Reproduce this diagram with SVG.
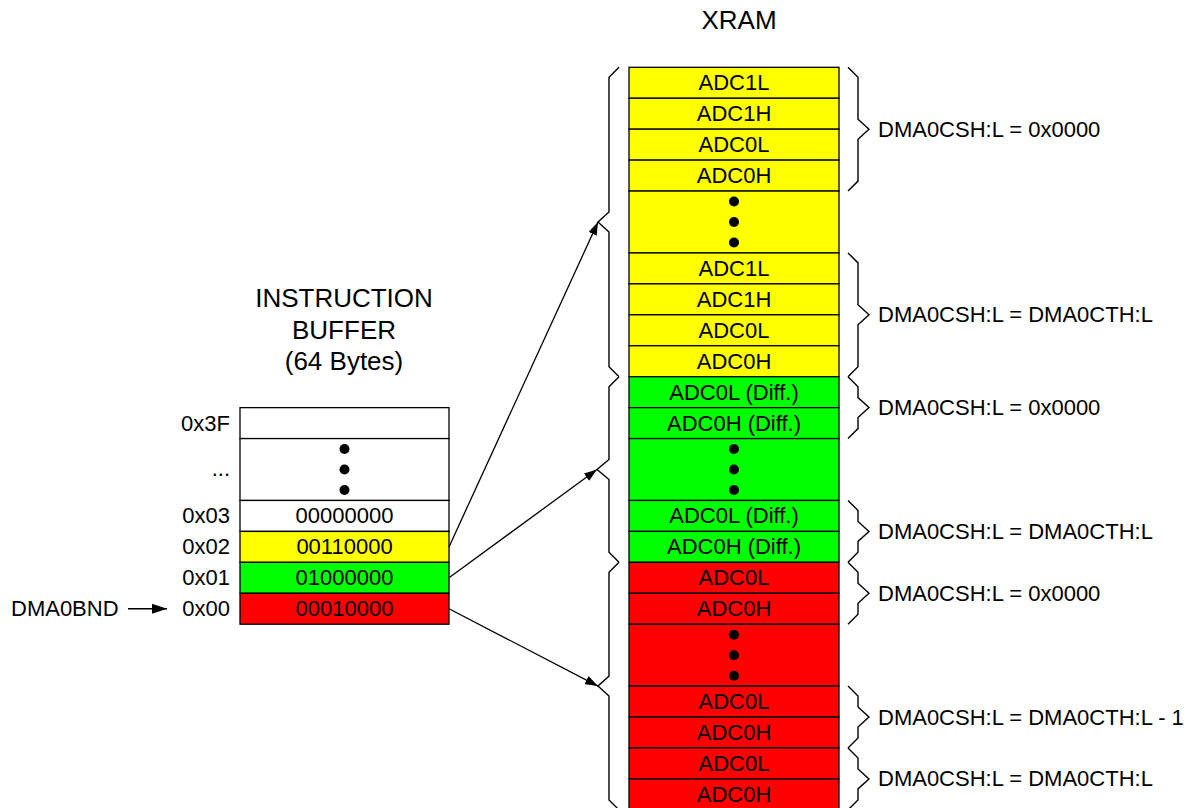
<svg xmlns="http://www.w3.org/2000/svg" width="1190" height="808" viewBox="0 0 1190 808">
<defs>
<style>
text{font-family:"Liberation Sans",Arial,sans-serif;font-size:22px;fill:#000}
.t{font-size:26px;text-anchor:middle}
.c{text-anchor:middle}
.r{text-anchor:end}
.cell{stroke:#000;stroke-width:1.3}
.y{fill:#ffff00}
.g{fill:#00ff00}
.rd{fill:#ff0000}
.w{fill:#ffffff}
.br{fill:none;stroke:#000;stroke-width:1.4;stroke-linejoin:miter}
.ln{fill:none;stroke:#000;stroke-width:1.3}
</style>
<marker id="ah" viewBox="0 0 13 9" refX="13" refY="4.5" markerWidth="13" markerHeight="9" markerUnits="userSpaceOnUse" orient="auto">
<path d="M0,0 L13,4.5 L0,9 z" fill="#000"/>
</marker>
<marker id="ah2" viewBox="0 0 15 10" refX="15" refY="5" markerWidth="15" markerHeight="10" markerUnits="userSpaceOnUse" orient="auto">
<path d="M0,0 L15,5 L0,10 z" fill="#000"/>
</marker>
</defs>
<rect width="1190" height="808" fill="#fff"/>

<g id="titles">
<text class="t" x="739" y="28.5">XRAM</text>
<text class="t" x="344" y="307">INSTRUCTION</text>
<text class="t" x="344" y="338.5">BUFFER</text>
<text class="t" x="344" y="369.5">(64 Bytes)</text>
</g>

<g id="xram">
<g id="xram-yellow">
<rect class="cell y" x="629" y="67.3" width="210" height="30.94"/>
<rect class="cell y" x="629" y="98.24" width="210" height="30.94"/>
<rect class="cell y" x="629" y="129.18" width="210" height="30.94"/>
<rect class="cell y" x="629" y="160.12" width="210" height="30.94"/>
<rect class="cell y" x="629" y="191.06" width="210" height="61.88"/>
<rect class="cell y" x="629" y="252.94" width="210" height="30.94"/>
<rect class="cell y" x="629" y="283.88" width="210" height="30.94"/>
<rect class="cell y" x="629" y="314.82" width="210" height="30.94"/>
<rect class="cell y" x="629" y="345.76" width="210" height="30.94"/>
<text class="c" x="734" y="90.3">ADC1L</text>
<text class="c" x="734" y="121.2">ADC1H</text>
<text class="c" x="734" y="152.2">ADC0L</text>
<text class="c" x="734" y="183.1">ADC0H</text>
<circle cx="734" cy="201.5" r="5"/>
<circle cx="734" cy="222" r="5"/>
<circle cx="734" cy="242.5" r="5"/>
<text class="c" x="734" y="275.9">ADC1L</text>
<text class="c" x="734" y="306.9">ADC1H</text>
<text class="c" x="734" y="337.8">ADC0L</text>
<text class="c" x="734" y="368.7">ADC0H</text>
</g>
<g id="xram-green">
<rect class="cell g" x="629" y="376.7" width="210" height="30.94"/>
<rect class="cell g" x="629" y="407.64" width="210" height="30.94"/>
<rect class="cell g" x="629" y="438.58" width="210" height="61.88"/>
<rect class="cell g" x="629" y="500.46" width="210" height="30.94"/>
<rect class="cell g" x="629" y="531.4" width="210" height="30.94"/>
<text class="c" x="734" y="399.7">ADC0L (Diff.)</text>
<text class="c" x="734" y="430.6">ADC0H (Diff.)</text>
<circle cx="734" cy="449" r="5"/>
<circle cx="734" cy="469.5" r="5"/>
<circle cx="734" cy="490" r="5"/>
<text class="c" x="734" y="523.4">ADC0L (Diff.)</text>
<text class="c" x="734" y="554.4">ADC0H (Diff.)</text>
</g>
<g id="xram-red">
<rect class="cell rd" x="629" y="562.34" width="210" height="30.94"/>
<rect class="cell rd" x="629" y="593.28" width="210" height="30.94"/>
<rect class="cell rd" x="629" y="624.22" width="210" height="61.88"/>
<rect class="cell rd" x="629" y="686.1" width="210" height="30.94"/>
<rect class="cell rd" x="629" y="717.04" width="210" height="30.94"/>
<rect class="cell rd" x="629" y="747.98" width="210" height="30.94"/>
<rect class="cell rd" x="629" y="778.92" width="210" height="30.94"/>
<text class="c" x="734" y="585.3">ADC0L</text>
<text class="c" x="734" y="616.3">ADC0H</text>
<circle cx="734" cy="634.7" r="5"/>
<circle cx="734" cy="655.2" r="5"/>
<circle cx="734" cy="675.7" r="5"/>
<text class="c" x="734" y="709.1">ADC0L</text>
<text class="c" x="734" y="740">ADC0H</text>
<text class="c" x="734" y="771">ADC0L</text>
<text class="c" x="734" y="801.9">ADC0H</text>
</g>
</g>

<g id="buffer">
<rect class="cell w" x="240" y="407.64" width="209" height="30.94"/>
<rect class="cell w" x="240" y="438.58" width="209" height="61.88"/>
<rect class="cell w" x="240" y="500.46" width="209" height="30.94"/>
<rect class="cell y" x="240" y="531.4" width="209" height="30.94"/>
<rect class="cell g" x="240" y="562.34" width="209" height="30.94"/>
<rect class="cell rd" x="240" y="593.28" width="209" height="30.94"/>
<circle cx="344.5" cy="449" r="5"/>
<circle cx="344.5" cy="469.5" r="5"/>
<circle cx="344.5" cy="490" r="5"/>
<text class="c" x="344.5" y="523.4">00000000</text>
<text class="c" x="344.5" y="554.4">00110000</text>
<text class="c" x="344.5" y="585.3">01000000</text>
<text class="c" x="344.5" y="616.3">00010000</text>
<text class="r" x="230" y="430.5">0x3F</text>
<text class="r" x="230" y="476">...</text>
<text class="r" x="230" y="523.4">0x03</text>
<text class="r" x="230" y="554.4">0x02</text>
<text class="r" x="230" y="585.3">0x01</text>
<text class="r" x="230" y="616.3">0x00</text>
</g>

<g id="dma0bnd">
<text x="11" y="616.3">DMA0BND</text>
</g>

<g id="braces-left">
<path class="br" d="M619,67.3 L609,77.3 L609,212 L598,222 L609,232 L609,366.7 L619,376.7"/>
<path class="br" d="M619,376.7 L609,386.7 L609,459.5 L597,469.5 L609,479.5 L609,552.3 L619,562.3"/>
<path class="br" d="M619,562.3 L609,572.3 L609,676.1 L598,686.1 L609,696.1 L609,799.9 L619,809.9"/>
</g>

<g id="braces-right">
<path class="br" d="M848,67.3 L858,77.3 L858,119.2 L869,129.2 L858,139.2 L858,181.1 L848,191.1"/>
<path class="br" d="M848,252.9 L858,262.9 L858,304.8 L869,314.8 L858,324.8 L858,366.7 L848,376.7"/>
<path class="br" d="M848,376.7 L858,386.7 L858,397.6 L869,407.6 L858,417.6 L858,428.6 L848,438.6"/>
<path class="br" d="M848,500.5 L858,510.5 L858,521.4 L869,531.4 L858,541.4 L858,552.3 L848,562.3"/>
<path class="br" d="M848,562.3 L858,572.3 L858,583.3 L869,593.3 L858,603.3 L858,614.2 L848,624.2"/>
<path class="br" d="M848,686.1 L858,696.1 L858,707 L869,717 L858,727 L858,738 L848,748"/>
<path class="br" d="M848,748 L858,758 L858,768.9 L869,778.9 L858,788.9 L858,799.9 L848,809.9"/>
<text x="878" y="136.7">DMA0CSH:L = 0x0000</text>
<text x="878" y="322.3">DMA0CSH:L = DMA0CTH:L</text>
<text x="878" y="415.1">DMA0CSH:L = 0x0000</text>
<text x="878" y="538.9">DMA0CSH:L = DMA0CTH:L</text>
<text x="878" y="600.8">DMA0CSH:L = 0x0000</text>
<text x="878" y="724.5">DMA0CSH:L = DMA0CTH:L - 1</text>
<text x="878" y="786.4">DMA0CSH:L = DMA0CTH:L</text>
</g>

<g id="connectors">
<line class="ln" x1="449" y1="546.9" x2="598" y2="222" marker-end="url(#ah)"/>
<line class="ln" x1="449" y1="577.8" x2="597" y2="469.5" marker-end="url(#ah)"/>
<line class="ln" x1="449" y1="608.75" x2="598" y2="686.1" marker-end="url(#ah)"/>
<line class="ln" x1="128" y1="608.75" x2="167" y2="608.75" marker-end="url(#ah2)"/>
</g>
</svg>
